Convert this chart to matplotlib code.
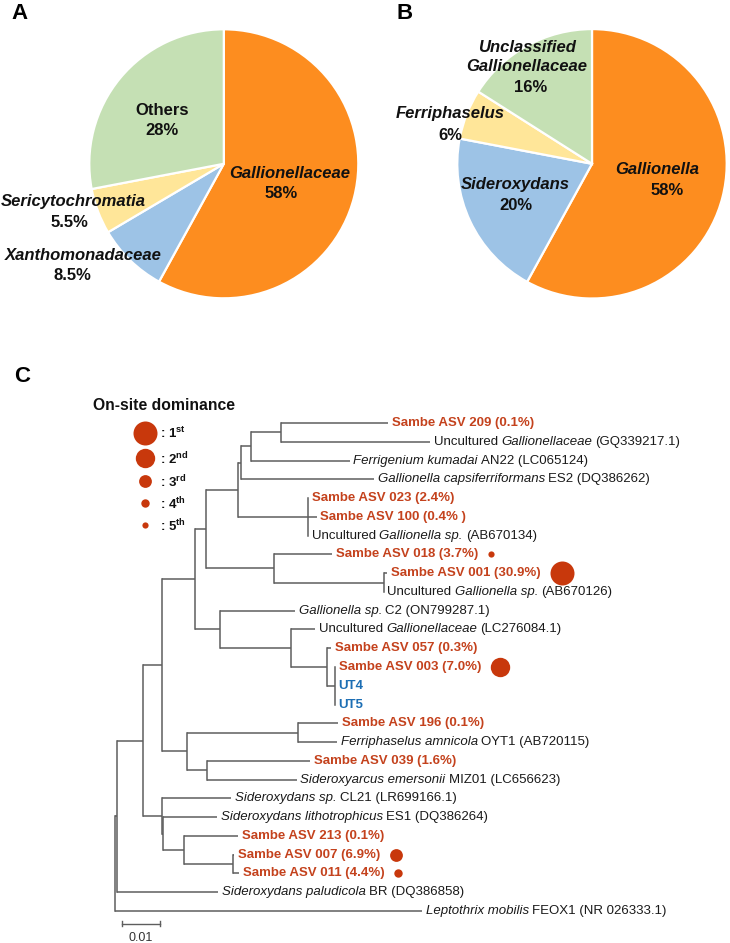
import re
import matplotlib
matplotlib.use("Agg")
import matplotlib.pyplot as plt

plt.rcParams['font.family'] = ['Liberation Sans', 'DejaVu Sans']
plt.rcParams['mathtext.fontset'] = 'custom'
plt.rcParams['mathtext.rm'] = 'Liberation Sans'
plt.rcParams['mathtext.bf'] = 'Liberation Sans:bold'
plt.rcParams['mathtext.it'] = 'Liberation Sans:italic'

W, H = 730, 943

# ========= data =========
pie_a_labels = ["Gallionellaceae", "Xanthomonadaceae", "Sericytochromatia", "Others"]
pie_a_values = [58, 8.5, 5.5, 28]
pie_a_pct = ["58%", "8.5%", "5.5%", "28%"]
pie_a_italic = [True, True, True, False]

pie_b_labels = ["Gallionella", "Sideroxydans", "Ferriphaselus", "Unclassified\nGallionellaceae"]
pie_b_values = [58, 20, 6, 16]
pie_b_pct = ["58%", "20%", "6%", "16%"]
pie_b_italic = [True, True, True, True]

pie_colors = ["#FD8D1F", "#9DC3E6", "#FFE699", "#C5E0B4"]

# tree topology + branch lengths (leaf ids index into leaf_labels, top to bottom)
tree_newick = (
    "(((("
    "((((((0:0.0275,1:0.0383):0.0078,2:0.0254):0.0026,3:0.0344):0.0007,"
    "(4:0,5:0.0023,6:0):0.0179):0.0083,"
    "(7:0.0150,(8:0.0010,9:0):0.0282):0.0176):0.0030,"
    "(10:0.0194,(11:0.0060,(12:0.0012,(13:0,14:0,15:0):0.0021):0.0091):0.0185):0.0065)"
    ":0.0084,((16:0.0104,17:0.0101):0.0287,(18:0.0265,19:0.0231):0.0053):0.0063)"
    ":0.0049,(20:0.0179,(21:0.0138,(22:0.0140,(23:0.0002,24:0.0015):0.0127):0.0054):0.0004):0.0048)"
    ":0.0069,25:0.0263):0.0004,26:0.0793);"
)

leaf_labels = [
    "Sambe ASV 209 (0.1%)",
    "Uncultured *Gallionellaceae* (GQ339217.1)",
    "*Ferrigenium kumadai* AN22 (LC065124)",
    "*Gallionella capsiferriformans* ES2 (DQ386262)",
    "Sambe ASV 023 (2.4%)",
    "Sambe ASV 100 (0.4% )",
    "Uncultured *Gallionella sp.* (AB670134)",
    "Sambe ASV 018 (3.7%)",
    "Sambe ASV 001 (30.9%)",
    "Uncultured *Gallionella sp.* (AB670126)",
    "*Gallionella sp.* C2 (ON799287.1)",
    "Uncultured *Gallionellaceae* (LC276084.1)",
    "Sambe ASV 057 (0.3%)",
    "Sambe ASV 003 (7.0%)",
    "UT4",
    "UT5",
    "Sambe ASV 196 (0.1%)",
    "*Ferriphaselus amnicola* OYT1 (AB720115)",
    "Sambe ASV 039 (1.6%)",
    "*Sideroxyarcus emersonii* MIZ01 (LC656623)",
    "*Sideroxydans sp.* CL21 (LR699166.1)",
    "*Sideroxydans lithotrophicus* ES1 (DQ386264)",
    "Sambe ASV 213 (0.1%)",
    "Sambe ASV 007 (6.9%)",
    "Sambe ASV 011 (4.4%)",
    "*Sideroxydans paludicola* BR (DQ386858)",
    "*Leptothrix mobilis* FEOX1 (NR 026333.1)",
]

# on-site dominance rank of the ASVs
dominance_rank = {
    "Sambe ASV 001 (30.9%)": 1,
    "Sambe ASV 003 (7.0%)": 2,
    "Sambe ASV 007 (6.9%)": 3,
    "Sambe ASV 011 (4.4%)": 4,
    "Sambe ASV 018 (3.7%)": 5,
}
rank_names = ["1", "2", "3", "4", "5"]
rank_suffix = ["st", "nd", "rd", "th", "th"]
scale_len = 0.01

# ========= styles =========
RED = "#C4421D"
DOT = "#C8380C"
BLUE = "#1C6EB4"
LINE = "#5E5E5E"
dot_radius_px = [12, 9.7, 6.4, 4.2, 3.1]
TREE_FS = 9.5


def fx(x):
    return x / W


def fy(y):
    return 1 - y / H


fig = plt.figure(figsize=(W / 100, H / 100), dpi=100)

# ========= pies =========
pie_geom = [(223.8, 163.8, 134.5), (592.0, 163.8, 134.7)]
pie_name_pos = [
    [(290, 174), (83, 255), (73, 201.5), (161.7, 110.7)],
    [(657, 170), (515.7, 185), (450.7, 113.3), (526.7, 56.7)],
]
pie_pct_pos = [
    [(281, 193.3), (72, 275), (69, 222.7), (161.7, 130.7)],
    [(666.7, 190.7), (515.7, 205), (450, 135), (530.7, 87.3)],
]
pies = [(pie_a_labels, pie_a_values, pie_a_pct, pie_a_italic),
        (pie_b_labels, pie_b_values, pie_b_pct, pie_b_italic)]

for k, (labels, values, pcts, italic) in enumerate(pies):
    cx, cy, r = pie_geom[k]
    ax = fig.add_axes([fx(cx - r), fy(cy + r), 2 * r / W, 2 * r / H])
    ax.pie(values, colors=pie_colors, startangle=90, counterclock=False,
           wedgeprops=dict(edgecolor="white", linewidth=1.6))
    ax.set_xlim(-1, 1)
    ax.set_ylim(-1, 1)
    ax.axis("off")
    for i, lab in enumerate(labels):
        nx, ny = pie_name_pos[k][i]
        px_, py_ = pie_pct_pos[k][i]
        fig.text(fx(nx), fy(ny), lab, ha="center", va="center", fontsize=12,
                 fontweight="bold", fontstyle="italic" if italic[i] else "normal",
                 linespacing=1.35, color="#111111")
        fig.text(fx(px_), fy(py_), pcts[i], ha="center", va="center", fontsize=12,
                 fontweight="bold", color="#111111")

fig.text(fx(11), fy(13.5), "A", fontsize=16, fontweight="bold", va="center", ha="left")
fig.text(fx(396), fy(13.5), "B", fontsize=16, fontweight="bold", va="center", ha="left")
fig.text(fx(14), fy(377), "C", fontsize=16, fontweight="bold", va="center", ha="left")


# ========= tree =========
def parse_newick(s):
    pos = 0

    def node():
        nonlocal pos
        kids = []
        name = None
        if s[pos] == "(":
            pos += 1
            kids.append(node())
            while s[pos] == ",":
                pos += 1
                kids.append(node())
            pos += 1
        else:
            m = re.match(r"[^:,();]+", s[pos:])
            name = m.group(0)
            pos += len(name)
        bl = 0.0
        if s[pos] == ":":
            m = re.match(r":([0-9.eE+-]+)", s[pos:])
            bl = float(m.group(1))
            pos += len(m.group(0))
        return {"name": name, "bl": bl, "kids": kids}

    return node()


root = parse_newick(tree_newick)
counter = [0]


def layout(n, x0):
    n["x"] = x0 + n["bl"]
    if not n["kids"]:
        n["y"] = counter[0]
        counter[0] += 1
    else:
        for c in n["kids"]:
            layout(c, n["x"])
        n["y"] = (n["kids"][0]["y"] + n["kids"][-1]["y"]) / 2


layout(root, 0.0)

# tree axes covers pixel rows 330..943; root at x=115 px, 0.01 = 38.7 px
X0PX, UNIT_PX = 115.0, 3870.0
Y0PX, DY = 423.0, 18.77
TOP = 330.0
ax_t = fig.add_axes([0, 0, 1, (H - TOP) / H])
ax_t.set_xlim(-X0PX / UNIT_PX, (W - X0PX) / UNIT_PX)
ax_t.set_ylim((H - Y0PX) / DY, (TOP - Y0PX) / DY)
ax_t.axis("off")


def to_tree(xp, yp):
    return (xp - X0PX) / UNIT_PX, (yp - Y0PX) / DY


leaves = []


def draw(n):
    if n["kids"]:
        ax_t.plot([n["x"], n["x"]], [n["kids"][0]["y"], n["kids"][-1]["y"]],
                  color=LINE, lw=1.1, solid_capstyle="projecting")
        for c in n["kids"]:
            if c["x"] > n["x"]:
                ax_t.plot([n["x"], c["x"]], [c["y"], c["y"]], color=LINE, lw=1.1,
                          solid_capstyle="butt")
            draw(c)
    else:
        leaves.append(n)


draw(root)

last_art = {}
for n in leaves:
    lab = leaf_labels[int(n["name"])]
    if lab.startswith("Sambe"):
        color, weight = RED, "bold"
    elif lab.startswith("UT"):
        color, weight = BLUE, "bold"
    else:
        color, weight = "#1A1A1A", "normal"
    parts = re.split(r"\*([^*]+)\*", lab)
    segs = []
    for j, p in enumerate(parts):
        p = p.strip()
        if p:
            segs.append((p, j % 2 == 1))
    prev = None
    prev_it = False
    for txt, it in segs:
        style = "italic" if it else "normal"
        if prev is None:
            prev = ax_t.text(n["x"] + 0.001, n["y"], txt, ha="left", va="center",
                             fontsize=TREE_FS, fontweight=weight, fontstyle=style,
                             color=color)
        else:
            gap = 2.2 if prev_it else 2.6
            prev = ax_t.annotate(txt, xy=(1, 0), xycoords=prev, xytext=(gap, 0),
                                 textcoords="offset points", ha="left", va="bottom",
                                 fontsize=TREE_FS, fontweight=weight, fontstyle=style,
                                 color=color)
        prev_it = it
    last_art[lab] = (prev, n["y"])

# dominance dots after the labels
fig.canvas.draw()
renderer = fig.canvas.get_renderer()
inv = ax_t.transData.inverted()
for lab, rank in dominance_rank.items():
    art, y = last_art[lab]
    bb = art.get_window_extent(renderer)
    r = dot_radius_px[rank - 1]
    xd = inv.transform((bb.x1 + 9 + r, 0))[0]
    ax_t.scatter([xd], [y], s=(2 * r * 0.72) ** 2, color=DOT, lw=0, zorder=3)

# legend
fig.text(fx(93), fy(406), "On-site dominance", fontsize=11.3, fontweight="bold",
         va="center", ha="left", color="#111111")
leg_y = [432.7, 458.3, 481, 503.3, 525]
for i, nm in enumerate(rank_names):
    lx, ly = to_tree(145, leg_y[i])
    r = dot_radius_px[i]
    ax_t.scatter([lx], [ly], s=(2 * r * 0.72) ** 2, color=DOT, lw=0, zorder=3)
    fig.text(fx(160), fy(leg_y[i] + 1), ": " + nm + r"$^{\mathbf{" + rank_suffix[i] + "}}$",
             fontsize=9.5, fontweight="bold", va="center", ha="left", color="#111111")

# scale bar
sx, sy = to_tree(121.7, 923.5)
ax_t.plot([sx, sx + scale_len], [sy, sy], color=LINE, lw=1.0)
ax_t.plot([sx, sx], [sy - 0.15, sy + 0.15], color=LINE, lw=1.0)
ax_t.plot([sx + scale_len, sx + scale_len], [sy - 0.15, sy + 0.15], color=LINE, lw=1.0)
ax_t.text(sx + scale_len / 2, sy + 0.75, "0.01", ha="center", va="center",
          fontsize=9, color="#333333")

fig.savefig("out.png", dpi=100)
